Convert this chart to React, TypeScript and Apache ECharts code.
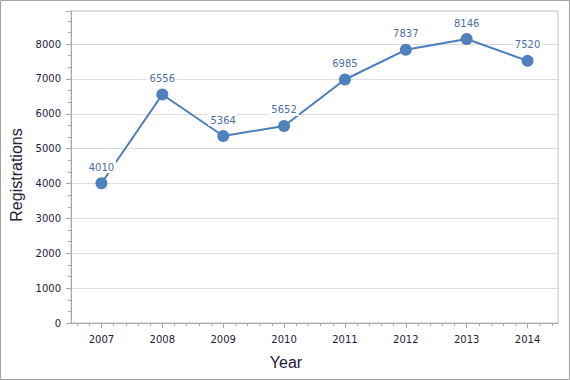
import React, { useEffect, useRef } from "react";
import * as echarts from "echarts";

const years = ["2007", "2008", "2009", "2010", "2011", "2012", "2013", "2014"];
const registrations = [4010, 6556, 5364, 5652, 6985, 7837, 8146, 7520];
const minorTickSlots = Array.from({ length: 40 }, () => "");

export default function App() {
  const ref = useRef<HTMLDivElement>(null);
  useEffect(() => {
    document.body.style.margin = "0";
    const chart = echarts.init(ref.current!, undefined, { renderer: "svg" });
    const tickFont = { fontFamily: "DejaVu Sans", fontSize: 10, color: "#1c1c3c" };
    const titleFont = { fontFamily: "Liberation Sans", fontSize: 16, color: "#222236" };
    chart.setOption({
      animation: false,
      backgroundColor: "#ffffff",
      graphic: [
        {
          type: "rect",
          shape: { x: 0.5, y: 0.5, width: 569, height: 379 },
          style: { fill: "none", stroke: "#a0a0a8", lineWidth: 1 },
          silent: true,
        },
      ],
      grid: {
        left: 71,
        right: 12,
        top: 11,
        bottom: 57,
        show: true,
        borderColor: "#c4c4c4",
        borderWidth: 1,
      },
      xAxis: [
        {
          type: "category",
          data: years,
          boundaryGap: true,
          name: "Year",
          nameLocation: "middle",
          nameGap: 31,
          nameTextStyle: { ...titleFont, padding: [0, 57, 0, 0] },
          axisLine: { show: true, lineStyle: { color: "#a8a8a8", width: 1 } },
          axisTick: { show: true, alignWithLabel: true, length: 5, lineStyle: { color: "#a8a8a8" } },
          axisLabel: { ...tickFont, margin: 11 },
          splitLine: { show: false },
        },
        {
          type: "category",
          data: minorTickSlots,
          position: "bottom",
          boundaryGap: true,
          axisLine: { show: false },
          axisTick: { show: true, alignWithLabel: true, length: 3, interval: 0, lineStyle: { color: "#a8a8a8" } },
          axisLabel: { show: false },
          splitLine: { show: false },
        },
      ],
      yAxis: {
        type: "value",
        min: 0,
        max: 8950,
        interval: 1000,
        name: "Registrations",
        nameLocation: "middle",
        nameGap: 46,
        nameTextStyle: { ...titleFont, padding: [0, 16, 0, 0] },
        axisLine: { show: true, lineStyle: { color: "#a8a8a8", width: 1 } },
        axisTick: { show: true, length: 5, lineStyle: { color: "#a8a8a8" } },
        minorTick: { show: true, splitNumber: 3, length: 3, lineStyle: { color: "#a8a8a8" } },
        axisLabel: { ...tickFont, margin: 10, showMaxLabel: false, formatter: (v: number) => String(v) },
        splitLine: { show: true, lineStyle: { color: "#dcdcdc", width: 1 } },
      },
      series: [
        {
          type: "line",
          data: registrations,
          xAxisIndex: 0,
          symbol: "circle",
          symbolSize: 12,
          lineStyle: { color: "#4a7ebb", width: 2 },
          itemStyle: { color: "#4f81bd" },
          label: {
            show: true,
            position: "top",
            distance: 4,
            fontFamily: "DejaVu Sans",
            fontSize: 10,
            color: "#4a70a8",
            backgroundColor: "#ffffff",
            padding: [1, 2, 1, 2],
          },
        },
      ],
    });
    return () => chart.dispose();
  }, []);
  return <div ref={ref} style={{ position: "absolute", left: 0, top: 0, width: 570, height: 380 }} />;
}
